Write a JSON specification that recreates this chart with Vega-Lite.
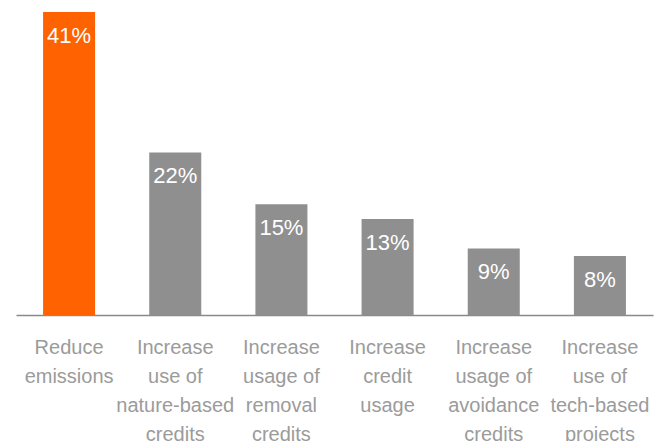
{
  "$schema": "https://vega.github.io/schema/vega-lite/v6.json",
  "width": 637,
  "height": 303,
  "autosize": {"type": "none"},
  "padding": {"left": 16, "top": 12, "right": 13, "bottom": 126},
  "background": "white",
  "config": {
    "view": {"stroke": null},
    "font": "Liberation Sans"
  },
  "data": {
    "values": [
      {"label": "Reduce|emissions", "share": 0.41},
      {"label": "Increase|use of|nature-based|credits", "share": 0.22},
      {"label": "Increase|usage of|removal|credits", "share": 0.15},
      {"label": "Increase|credit|usage", "share": 0.13},
      {"label": "Increase|usage of|avoidance|credits", "share": 0.09},
      {"label": "Increase|use of|tech-based|projects", "share": 0.08}
    ]
  },
  "encoding": {
    "x": {
      "field": "label",
      "type": "nominal",
      "sort": null,
      "scale": {"paddingInner": 0.51, "paddingOuter": 0.255},
      "axis": {
        "title": null,
        "labelAngle": 0,
        "labelExpr": "split(datum.label, '|')",
        "labelFont": "Liberation Sans",
        "labelFontSize": 20,
        "labelColor": "#9b9b9b",
        "labelLineHeight": 29,
        "labelPadding": 22,
        "labelBaseline": "top",
        "labelLimit": 0,
        "labelOverlap": false,
        "labelBound": false,
        "ticks": false,
        "domain": true,
        "domainColor": "#8a8a8a",
        "domainWidth": 1.5
      }
    },
    "y": {
      "field": "share",
      "type": "quantitative",
      "scale": {"domain": [0, 0.41], "nice": false, "zero": true},
      "axis": null
    }
  },
  "layer": [
    {
      "mark": {"type": "bar"},
      "encoding": {
        "color": {
          "condition": {"test": "datum.label === 'Reduce|emissions'", "value": "#ff6200"},
          "value": "#8f8f8f"
        }
      }
    },
    {
      "mark": {
        "type": "text",
        "color": "white",
        "font": "Liberation Sans",
        "fontSize": 22,
        "fontWeight": "normal",
        "baseline": "alphabetic",
        "align": "center",
        "dy": 31
      },
      "encoding": {
        "text": {"field": "share", "type": "quantitative", "format": ".0%"}
      }
    }
  ]
}
